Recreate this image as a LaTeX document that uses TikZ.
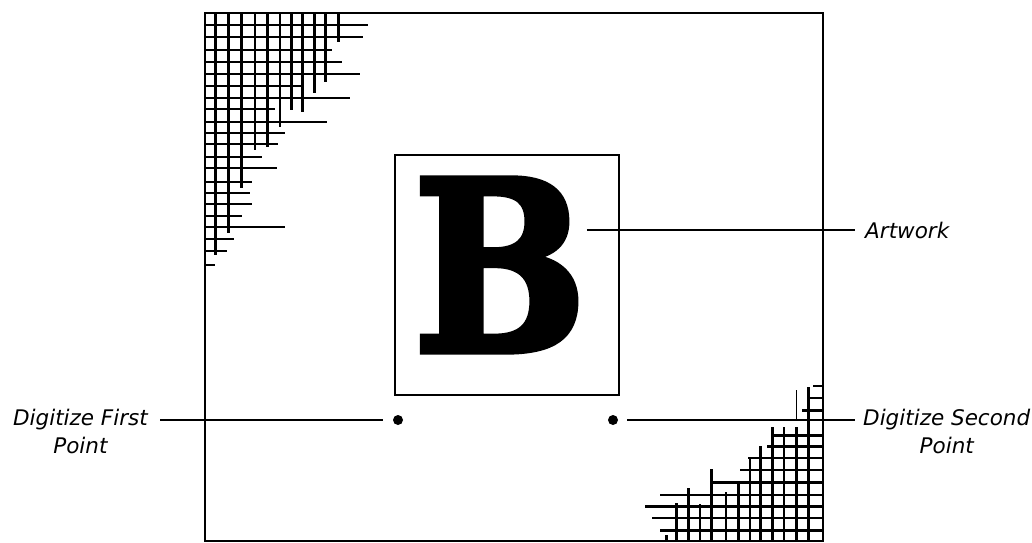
\documentclass[tikz,border=0pt]{standalone}
\usepackage{fontspec}
\usepackage{graphicx}
\setsansfont{DejaVu Sans}
\newfontfamily\letterfont{DejaVu Serif}[BoldFeatures={FakeBold=3}]
\begin{document}
\begin{tikzpicture}[x=1pt,y=-1pt,
    frame/.style={line width=2pt},
    grid/.style={line width=2.6pt},
    conn/.style={line width=1.4pt},
    dot/.style={circle,fill,inner sep=0pt,minimum size=10pt},
    lbl/.style={inner sep=0pt,font=\sffamily\itshape\fontsize{21.5}{28}\selectfont}]
   \useasboundingbox (0,0) rectangle (1032,542);
   % drawing board and artwork
   \draw[frame] (205,13) rectangle (823,541);
   \draw[line width=1.2pt] (395,155) rectangle (619,395);
   \node[inner sep=0pt] (letter) at (500,265) {\resizebox{173pt}{172pt}{\letterfont\bfseries B}};
   % grid, upper left
   \foreach \x/\e in {215.7/255, 228.3/233, 241.7/188, 255/150, 267.7/147, 280/127,
                      291.7/110, 302.7/112, 314.3/93, 325.7/82, 338.3/42}
     \draw[grid] (\x,13) -- (\x,\e);
   \foreach \y/\e in {25/368, 37/363, 50/332, 62/342, 74/360, 86/302, 98/350,
                      109/275, 122/327, 133/285, 144/278, 157/262, 168/277, 182/252,
                      193/250, 204/252, 216/242, 227/285, 239/234, 251/227, 265/215}
     \draw[grid] (205,\y) -- (\e,\y);
   % grid, lower right
   \foreach \x/\s in {666.7/535, 676.7/503, 688.3/488, 700/504, 711.7/469, 726/492,
                      738.3/483, 750/458, 760.7/446, 772.7/427, 784/427, 796.7/427,
                      808.3/387}
     \draw[grid] (\x,\s) -- (\x,541);
   \draw[line width=1pt] (796.7,390) -- (796.7,420);
   \foreach \y/\s in {386/813, 398/808, 410.7/802, 435.7/772, 446.7/767, 458/748,
                      470/740, 482.7/711, 495/660, 506.7/645, 518/652, 530.7/660}
     \draw[grid] (\s,\y) -- (823,\y);
   % points and labels
   \node[dot] (dot1) at (398,420) {};
   \node[dot] (dot2) at (613,420) {};
   \node[lbl,anchor=west] (art) at (865,230) {Artwork};
   \node[lbl,anchor=east] (first) at (148,420) {Digitize First};
   \node[lbl,anchor=base] (firstpt) at ([yshift=-28pt]first.base) {Point};
   \node[lbl,anchor=west] (second) at (863,420) {Digitize Second};
   \node[lbl,anchor=base] (secondpt) at ([yshift=-28pt]second.base) {Point};
   \draw[conn] (letter.east |- art.west) -- (art.west) [shorten >=10pt];
   \draw[conn,shorten <=12pt,shorten >=10pt] (first.east |- dot1) -- (dot1.west);
   \draw[conn,shorten <=9pt,shorten >=8pt] (dot2.east) -- (second.west |- dot2);
\end{tikzpicture}
\end{document}
